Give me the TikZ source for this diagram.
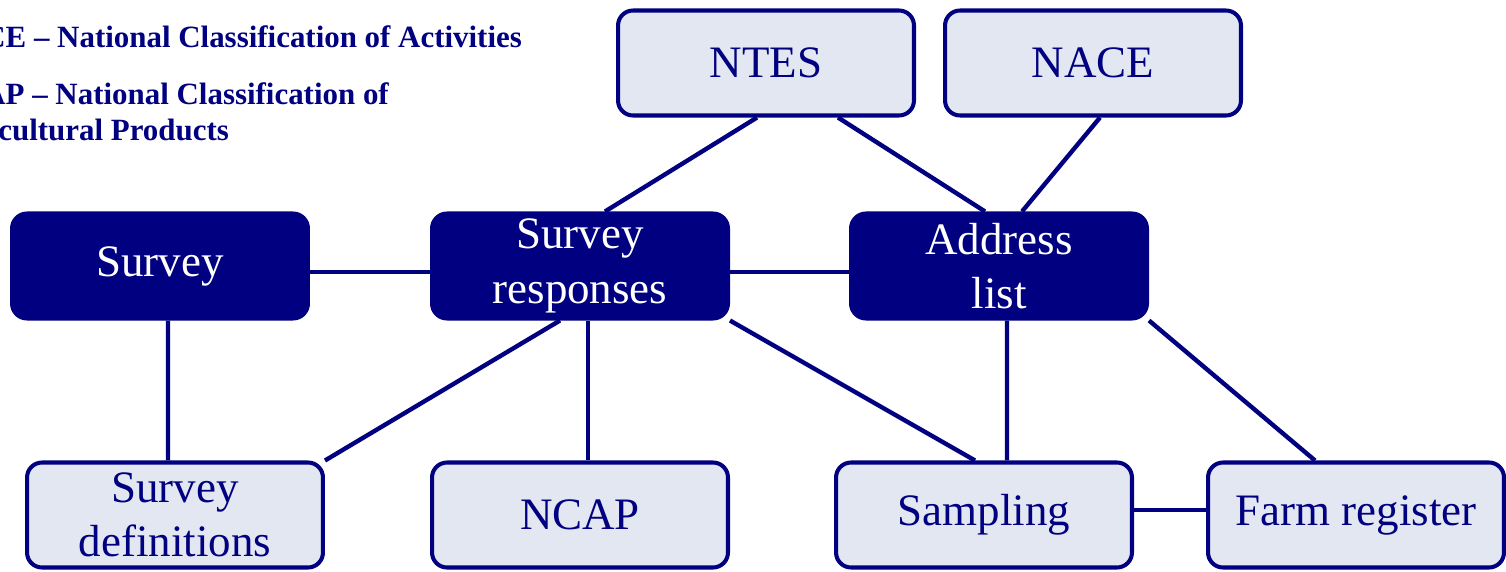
\documentclass[tikz,border=0pt]{standalone}
\usepackage{fontspec}
\setmainfont{Liberation Serif}
\definecolor{navyblue}{RGB}{0,0,128}
\definecolor{paleblue}{RGB}{227,231,241}

\begin{document}
\begin{tikzpicture}[x=0.02cm, y=-0.02cm,
    darkbox/.style={draw=navyblue, fill=navyblue, text=white, rounded corners=0.3cm,
        line width=2.3pt, minimum width=5.92cm, minimum height=2.1cm, inner sep=0pt,
        align=center, font=\fontsize{25.6}{31}\selectfont},
    lightbox/.style={darkbox, fill=paleblue, text=navyblue},
    link/.style={navyblue, line width=2.5pt},
    legend/.style={anchor=base west, inner sep=0pt, text=navyblue,
        font=\fontsize{17.6}{20}\selectfont\bfseries}]
    \useasboundingbox (0,0) rectangle (1506,571);

    % Legend (cut at the left edge)
    \node[legend] (leg1) at (-17,48) {CE -- National Classification of Activities};
    \node[legend] (leg2) at (-17,105) {AP -- National Classification of};
    \node[legend] (leg3) at (-2,140) {cultural Products};

    % Classifications
    \node[lightbox] (ntes) at (766,63) {NTES};
    \node[lightbox] (nace) at (1093,63) {NACE};

    % Main row
    \node[darkbox] (survey) at (160,266) {\raisebox{-3pt}{Survey}};
    \node[darkbox] (resp) at (580,266) {Survey\\responses};
    \node[darkbox] (addr) at (999,266) {Address\\list};

    % Bottom row
    \node[lightbox] (defs) at (175,515) {Survey\\definitions};
    \node[lightbox] (ncap) at (580,515) {NCAP};
    \node[lightbox] (sampling) at (984,515) {Sampling};
    \node[lightbox] (farm) at (1356,515) {Farm register};

    % Links
    \draw[link] ([xshift=-0.18cm]ntes.south) -- ([xshift=0.5cm]resp.north);
    \draw[link] ([xshift=1.44cm]ntes.south) -- ([xshift=-0.28cm]addr.north);
    \draw[link] ([xshift=0.14cm]nace.south) -- ([xshift=0.46cm]addr.north);
    \draw[link] ([yshift=-0.12cm]survey.east) -- ([yshift=-0.12cm]resp.west);
    \draw[link] ([yshift=-0.12cm]resp.east) -- ([yshift=-0.12cm]addr.west);
    \draw[link] ([xshift=0.16cm]survey.south) -- ([xshift=-0.14cm]defs.north);
    \draw[link] ([xshift=-0.4cm]resp.south) -- (defs.north east);
    \draw[link] ([xshift=0.16cm]resp.south) -- ([xshift=0.16cm]ncap.north);
    \draw[link] (resp.south east) -- ([xshift=-0.18cm]sampling.north);
    \draw[link] ([xshift=0.16cm]addr.south) -- ([xshift=0.46cm]sampling.north);
    \draw[link] (addr.south east) -- ([xshift=-0.82cm]farm.north);
    \draw[link] ([yshift=0.1cm]sampling.east) -- ([yshift=0.1cm]farm.west);
\end{tikzpicture}
\end{document}
